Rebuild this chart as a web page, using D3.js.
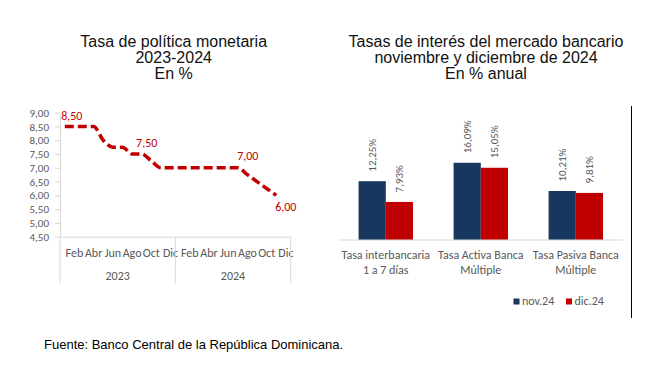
<!DOCTYPE html>
<html>
<head>
<meta charset="utf-8">
<script src="https://cdn.jsdelivr.net/npm/d3@7"></script>
<style>
  body { margin: 0; background: #fff; }
  svg { display: block; }
  .title { font-family: "Liberation Sans", Arial, sans-serif; font-size: 16px; fill: #111; }
  .small { font-family: Carlito, Calibri, Lato, sans-serif; font-size: 11px; fill: #595959; }
  .mid { font-size: 12px; }
</style>
</head>
<body>
<script>
var width = 659
var height = 369

// left chart: monetary policy rate, monthly 2023-2024
var months = ['Ene', 'Feb', 'Mar', 'Abr', 'May', 'Jun', 'Jul', 'Ago', 'Sep', 'Oct', 'Nov', 'Dic']
var years = ['2023', '2024']
var tpm2023 = [8.50, 8.50, 8.50, 8.50, 8.00, 7.75, 7.75, 7.50, 7.50, 7.25, 7.00, 7.00]
var tpm2024 = [7.00, 7.00, 7.00, 7.00, 7.00, 7.00, 7.00, 6.75, 6.50, 6.25, 6.00, null]
var tpmTicks = [4.5, 5, 5.5, 6, 6.5, 7, 7.5, 8, 8.5, 9]
var shownMonths = ['Feb', 'Abr', 'Jun', 'Ago', 'Oct', 'Dic']
var labelledPoints = [0, 8, 18, 22]

// right chart: bank rates
var rateCategories = [['Tasa interbancaria', '1 a 7 días'], ['Tasa Activa Banca', 'Múltiple'], ['Tasa Pasiva Banca', 'Múltiple']]
var seriesNames = ['nov.24', 'dic.24']
var nov24 = [12.25, 16.09, 10.21]
var dic24 = [7.93, 15.05, 9.81]

var locale = d3.formatLocale({ decimal: ',', thousands: '.', grouping: [3], currency: ['', ''] })
var fmt2 = locale.format('.2f')

var svg = d3.select('body').append('svg')
  .attr('width', width)
  .attr('height', height)

// ---------- left chart ----------
var tpm = []
years.forEach((yr, j) => {
  var vals = j === 0 ? tpm2023 : tpm2024
  months.forEach((m, i) => tpm.push({ i: j * 12 + i, month: m, year: yr, value: vals[i] }))
})

var xL = d3.scaleBand()
  .domain(tpm.map(d => d.i))
  .range([60, 290.7])
var xc = i => xL(i) + xL.bandwidth() / 2

var yL = d3.scaleLinear()
  .domain([4.5, 9])
  .range([236.7, 112.7])

var left = svg.append('g')

left.append('g')
  .attr('class', 'title')
  .selectAll('text')
  .data(['Tasa de política monetaria', '2023-2024', 'En %'])
  .enter().append('text')
  .attr('x', 173.7)
  .attr('y', (d, i) => 46.7 + i * 16.3)
  .attr('text-anchor', 'middle')
  .text(d => d)

var yAxis = d3.axisLeft(yL)
  .tickValues(tpmTicks)
  .tickSize(5)
  .tickSizeOuter(0)
  .tickPadding(6)
  .tickFormat(fmt2)

var gy = left.append('g')
  .attr('transform', 'translate(60,0)')
  .call(yAxis)
gy.selectAll('path, line').attr('stroke', '#d9d9d9')
gy.selectAll('text').attr('class', 'small').attr('font-family', null).attr('font-size', null).attr('fill', null)

var xAxis = d3.axisBottom(xL)
  .tickValues(tpm.filter(d => shownMonths.indexOf(d.month) >= 0).map(d => d.i))
  .tickFormat(i => tpm[i].month)
  .tickSize(0)
  .tickPadding(12)

var gx = left.append('g')
  .attr('transform', 'translate(0,236.7)')
  .call(xAxis)
gx.select('.domain').attr('stroke', '#d9d9d9')
gx.selectAll('text').attr('class', 'small mid').attr('font-family', null).attr('font-size', null).attr('fill', null)
  .attr('dy', null).attr('y', 20.3)

// year separators and labels
var seps = [xL(0), xL(12), xL.range()[1]]
left.selectAll('.sep')
  .data(seps)
  .enter().append('line')
  .attr('x1', d => d).attr('x2', d => d)
  .attr('y1', 236.7).attr('y2', 283.3)
  .attr('stroke', '#d9d9d9')

left.selectAll('.year')
  .data(years)
  .enter().append('text')
  .attr('class', 'small mid')
  .attr('x', (d, j) => (xL(j * 12) + xL(j * 12 + 11) + xL.bandwidth()) / 2)
  .attr('y', 280)
  .attr('text-anchor', 'middle')
  .text(d => d)

var line = d3.line()
  .defined(d => d.value != null)
  .x(d => xc(d.i))
  .y(d => yL(d.value))
  .curve(d3.curveMonotoneX)

left.append('path')
  .attr('d', line(tpm))
  .attr('fill', 'none')
  .attr('stroke', '#c00000')
  .attr('stroke-width', 3.5)
  .attr('stroke-dasharray', '9,4')

// label offsets (dx, dy) per labelled point
var labelOffsets = [[7, -6], [5, -6.7], [10, -7.6], [9.5, 16]]
left.selectAll('.vlab')
  .data(labelledPoints)
  .enter().append('text')
  .attr('class', 'small')
  .style('font-size', '12px')
  .style('fill', '#c00000')
  .attr('x', (d, k) => xc(d) + labelOffsets[k][0])
  .attr('y', (d, k) => yL(tpm[d].value) + labelOffsets[k][1])
  .attr('text-anchor', 'middle')
  .text(d => fmt2(tpm[d].value))

// ---------- right chart ----------
var rates = rateCategories.map((c, i) => ({ cat: c, i: i, values: [nov24[i], dic24[i]] }))
var colors = d3.scaleOrdinal().domain(seriesNames).range(['#17375e', '#c00000'])

var xR = d3.scaleBand()
  .domain(rates.map(d => d.i))
  .range([338.3, 623.3])
  .paddingInner(0.427)
  .paddingOuter(0.2135)

var xS = d3.scaleBand()
  .domain(seriesNames)
  .range([0, xR.bandwidth()])

var yR = d3.scaleLinear()
  .domain([0, 20])
  .range([240, 144])

var right = svg.append('g')

right.append('g')
  .attr('class', 'title')
  .selectAll('text')
  .data(['Tasas de interés del mercado bancario', 'noviembre y diciembre de 2024', 'En % anual'])
  .enter().append('text')
  .attr('x', 486)
  .attr('y', (d, i) => 46.7 + i * 16.3)
  .attr('text-anchor', 'middle')
  .text(d => d)

var groups = right.selectAll('.grp')
  .data(rates)
  .enter().append('g')
  .attr('transform', d => 'translate(' + xR(d.i) + ',0)')

var bars = groups.selectAll('.bar')
  .data(d => d.values.map((v, k) => ({ name: seriesNames[k], value: v })))
  .enter()

bars.append('rect')
  .attr('x', d => xS(d.name))
  .attr('width', xS.bandwidth())
  .attr('y', d => yR(d.value))
  .attr('height', d => yR(0) - yR(d.value))
  .attr('fill', d => colors(d.name))

bars.append('text')
  .attr('class', 'small')
  .attr('transform', d => 'translate(' + (xS(d.name) + xS.bandwidth() / 2) + ',' + (yR(d.value) - 9.5) + ') rotate(-90)')
  .attr('dy', '0.35em')
  .text(d => fmt2(d.value) + '%')

right.append('line')
  .attr('x1', xR.range()[0]).attr('x2', xR.range()[1])
  .attr('y1', yR(0)).attr('y2', yR(0))
  .attr('stroke', '#d9d9d9')

groups.selectAll('.cat')
  .data(d => d.cat)
  .enter().append('text')
  .attr('class', 'small mid')
  .attr('x', xR.bandwidth() / 2)
  .attr('y', (d, k) => 259.3 + k * 14.7)
  .attr('text-anchor', 'middle')
  .text(d => d)

// legend
var legend = right.selectAll('.leg')
  .data(seriesNames)
  .enter().append('g')
  .attr('transform', (d, k) => 'translate(' + [513.5 + k * 52.5, 298.5] + ')')
legend.append('rect')
  .attr('width', 6).attr('height', 6)
  .attr('fill', d => colors(d))
legend.append('text')
  .attr('class', 'small mid')
  .attr('x', 8.5)
  .attr('y', 6)
  .text(d => d)

right.append('line')
  .attr('x1', 631.5).attr('x2', 631.5)
  .attr('y1', 106).attr('y2', 318)
  .attr('stroke', '#000')

// source
svg.append('text')
  .attr('x', 44)
  .attr('y', 349)
  .style('font-family', '"Liberation Sans", Arial, sans-serif')
  .style('font-size', '13px')
  .style('fill', '#000')
  .text('Fuente: Banco Central de la República Dominicana.')
</script>
</body>
</html>
